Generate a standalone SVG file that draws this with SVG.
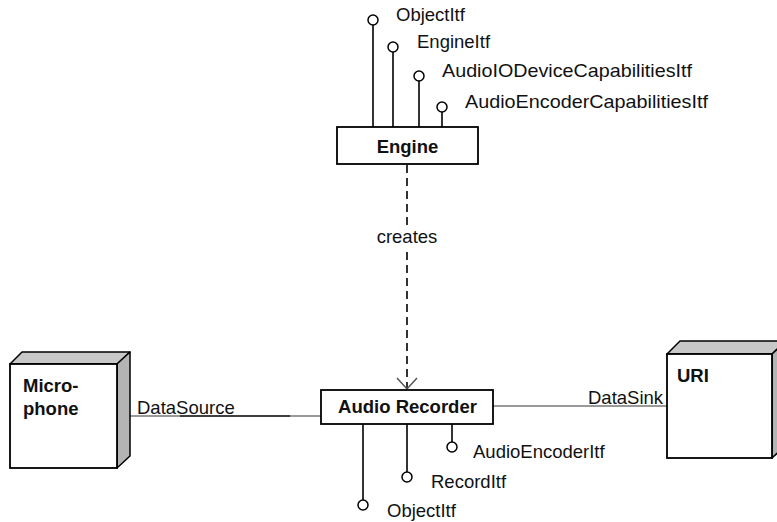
<svg xmlns="http://www.w3.org/2000/svg" width="777" height="522" viewBox="0 0 777 522">
<style>
  .box { fill: #fff; stroke: #000; stroke-width: 1.8; }
  .face { stroke: #000; stroke-width: 1.5; stroke-linejoin: round; }
  .top { fill: #c8c8c8; }
  .side { fill: #b4b4b4; }
  .lbl { font-family: "Liberation Sans", Arial, sans-serif; font-size: 18.5px; fill: #111; }
  .bold { font-family: "Liberation Sans", Arial, sans-serif; font-size: 18.5px; font-weight: bold; fill: #111; }
  .stem { stroke: #000; stroke-width: 1.6; fill: none; }
  .ball { fill: #fff; stroke: #000; stroke-width: 1.5; }
  .link { stroke: #777; stroke-width: 1.6; fill: none; }
  .dash { stroke: #000; stroke-width: 1.6; fill: none; stroke-dasharray: 8 5; }
  .head { stroke: #555; stroke-width: 1.5; fill: none; }
</style>

<g id="connectors">
  <g id="creates">
    <line class="dash" x1="407" y1="165" x2="407" y2="227"/>
    <line class="dash" x1="407" y1="252" x2="407" y2="388"/>
    <polyline class="head" points="397,378 407,389 417,378"/>
    <text class="lbl" x="407" y="243" text-anchor="middle">creates</text>
  </g>
  <g id="datasource">
    <line class="link" x1="130" y1="416" x2="321" y2="416"/>
    <line stroke="#222" stroke-width="1.6" x1="180" y1="416" x2="290" y2="416"/>
    <text class="lbl" x="137" y="414">DataSource</text>
  </g>
  <g id="datasink">
    <line class="link" x1="493" y1="406" x2="667" y2="406"/>
    <text class="lbl" x="588" y="404">DataSink</text>
  </g>
</g>

<g id="engine">
  <rect class="box" x="337" y="127" width="141" height="37"/>
  <text class="bold" x="407.5" y="153" text-anchor="middle">Engine</text>
  <g id="engine-objectitf">
    <line class="stem" x1="373" y1="25" x2="373" y2="127"/>
    <circle class="ball" cx="373" cy="20" r="5"/>
    <text class="lbl" x="396" y="21">ObjectItf</text>
  </g>
  <g id="engine-engineitf">
    <line class="stem" x1="393" y1="52" x2="393" y2="127"/>
    <circle class="ball" cx="393" cy="47" r="5"/>
    <text class="lbl" x="417" y="48">EngineItf</text>
  </g>
  <g id="engine-audioiodevicecapabilitiesitf">
    <line class="stem" x1="419" y1="81" x2="419" y2="127"/>
    <circle class="ball" cx="419" cy="76" r="5"/>
    <text class="lbl" x="442" y="77" textLength="250" lengthAdjust="spacingAndGlyphs">AudioIODeviceCapabilitiesItf</text>
  </g>
  <g id="engine-audioencodercapabilitiesitf">
    <line class="stem" x1="442" y1="112" x2="442" y2="127"/>
    <circle class="ball" cx="442" cy="107" r="5"/>
    <text class="lbl" x="465" y="108" textLength="243" lengthAdjust="spacingAndGlyphs">AudioEncoderCapabilitiesItf</text>
  </g>
</g>

<g id="audio-recorder">
  <rect class="box" x="321" y="390" width="172" height="34"/>
  <text class="bold" x="407.5" y="413" text-anchor="middle">Audio Recorder</text>
  <g id="recorder-audioencoderitf">
    <line class="stem" x1="452" y1="424" x2="452" y2="442"/>
    <circle class="ball" cx="452" cy="447" r="5"/>
    <text class="lbl" x="473" y="458">AudioEncoderItf</text>
  </g>
  <g id="recorder-recorditf">
    <line class="stem" x1="407" y1="424" x2="407" y2="472"/>
    <circle class="ball" cx="407" cy="477" r="5"/>
    <text class="lbl" x="431" y="488">RecordItf</text>
  </g>
  <g id="recorder-objectitf">
    <line class="stem" x1="363" y1="424" x2="363" y2="500"/>
    <circle class="ball" cx="363" cy="505" r="5"/>
    <text class="lbl" x="387" y="517">ObjectItf</text>
  </g>
</g>

<g id="microphone">
  <polygon class="face top" points="10,364 22,352 130,352 117,364"/>
  <polygon class="face side" points="117,364 130,352 130,456 117,468"/>
  <rect class="box" x="10" y="364" width="107" height="104"/>
  <text class="bold" x="23" y="392">Micro-</text>
  <text class="bold" x="23" y="415">phone</text>
</g>

<g id="uri">
  <polygon class="face top" points="667,354 680,341 786,341 772,354"/>
  <polygon class="face side" points="772,354 786,341 786,445 772,458"/>
  <rect class="box" x="667" y="354" width="105" height="104"/>
  <text class="bold" x="677" y="382">URI</text>
</g>
</svg>
